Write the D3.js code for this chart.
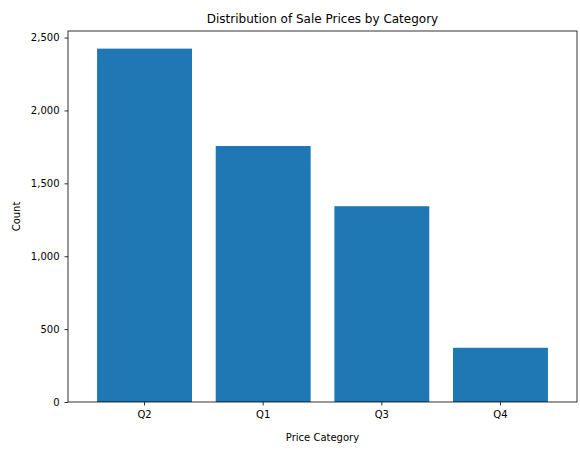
<!DOCTYPE html>
<html>
<head>
<meta charset="utf-8">
<script src="https://cdn.jsdelivr.net/npm/d3@7"></script>
<style>
body { margin: 0; background: #fff; }
text { font-family: "DejaVu Sans", sans-serif; }
</style>
</head>
<body>
<div id="chart"></div>
<script>
var categories = ['Q2', 'Q1', 'Q3', 'Q4'];
var counts = [2424, 1756, 1343, 372];
var yTicks = [0, 500, 1000, 1500, 2000, 2500];

var W = 580, H = 455;
var m = { left: 68, right: 3, top: 31, bottom: 53 };

var svg = d3.select('#chart').append('svg')
    .attr('width', W).attr('height', H);

var x = d3.scaleBand().domain(categories)
    .range([m.left, W - m.right])
    .paddingInner(0.2).paddingOuter(0.245);
var y = d3.scaleLinear().domain([0, 2545])
    .range([H - m.bottom, m.top]);

svg.selectAll('rect.bar').data(counts).enter().append('rect')
    .attr('class', 'bar')
    .attr('x', function (d, i) { return x(categories[i]); })
    .attr('y', function (d) { return y(d); })
    .attr('width', x.bandwidth())
    .attr('height', function (d) { return y(0) - y(d); })
    .attr('fill', '#1f77b4');

var xAxis = svg.append('g')
    .attr('transform', 'translate(0,' + (H - m.bottom) + ')')
    .call(d3.axisBottom(x).tickSize(3.5).tickPadding(5));
var yAxis = svg.append('g')
    .attr('transform', 'translate(' + m.left + ',0)')
    .call(d3.axisLeft(y).tickValues(yTicks).tickSize(3.5).tickPadding(5));

[xAxis, yAxis].forEach(function (g) {
    g.selectAll('.domain').remove();
    g.selectAll('text').style('font-size', '10px').attr('fill', '#000');
    g.selectAll('line').attr('stroke', '#000').attr('stroke-width', 0.8);
});

// frame
svg.append('rect')
    .attr('x', m.left).attr('y', m.top)
    .attr('width', W - m.right - m.left)
    .attr('height', H - m.bottom - m.top)
    .attr('fill', 'none').attr('stroke', '#000').attr('stroke-width', 0.8);

svg.append('text').attr('x', (m.left + W - m.right) / 2).attr('y', 23)
    .attr('text-anchor', 'middle').style('font-size', '12px')
    .text('Distribution of Sale Prices by Category');
svg.append('text').attr('x', (m.left + W - m.right) / 2).attr('y', 441)
    .attr('text-anchor', 'middle').style('font-size', '10px')
    .text('Price Category');
svg.append('text')
    .attr('transform', 'translate(20,' + ((m.top + H - m.bottom) / 2) + ') rotate(-90)')
    .attr('text-anchor', 'middle').style('font-size', '10px')
    .text('Count');
</script>
</body>
</html>
